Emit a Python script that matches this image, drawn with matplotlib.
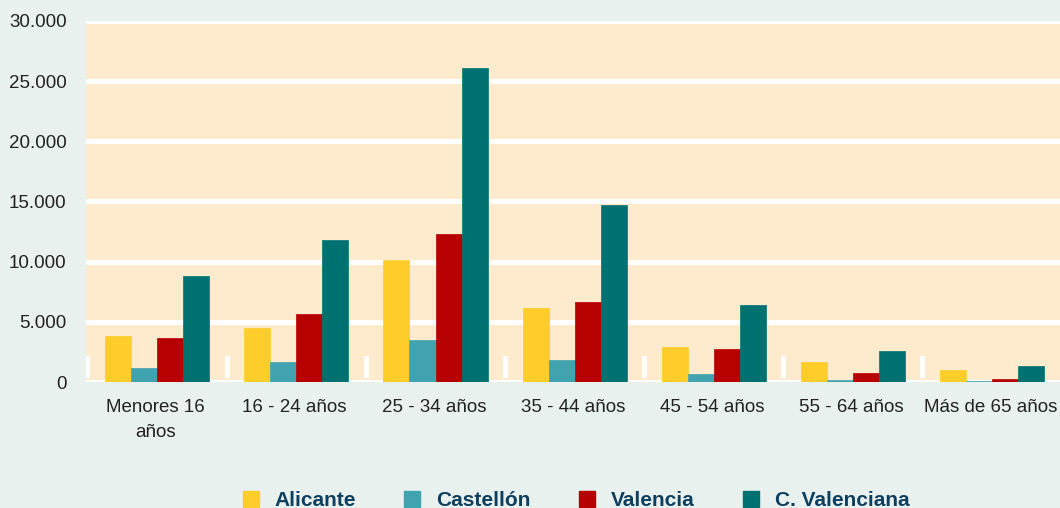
import matplotlib
matplotlib.use("Agg")
import matplotlib.pyplot as plt
from matplotlib.lines import Line2D
from matplotlib.ticker import FuncFormatter
import numpy as np

# data
categories = ["Menores 16\naños", "16 - 24 años", "25 - 34 años", "35 - 44 años",
              "45 - 54 años", "55 - 64 años", "Más de 65 años"]
alicante = [3830, 4490, 10150, 6160, 2910, 1660, 1000]
castellon = [1165, 1660, 3490, 1830, 665, 160, 80]
valencia = [3660, 5660, 12310, 6650, 2750, 750, 250]
c_valenciana = [8820, 11810, 26120, 14720, 6400, 2580, 1330]
series_names = ["Alicante", "Castellón", "Valencia", "C. Valenciana"]
colors = ["#FFCD2A", "#42A3B0", "#B70000", "#007171"]
yticks = [0, 5000, 10000, 15000, 20000, 25000, 30000]

plt.rcParams["font.family"] = ["Liberation Sans", "DejaVu Sans"]

fig = plt.figure(figsize=(10.6, 5.08), dpi=100)
fig.patch.set_facecolor("#E8F1EE")
ax = fig.add_axes([0.0811, 0.248, 0.9189, 0.7107])
ax.set_facecolor("#FEEBCE")

x = np.arange(len(categories))
w = 0.187
all_series = [alicante, castellon, valencia, c_valenciana]
for i, (vals, col) in enumerate(zip(all_series, colors)):
    ax.bar(x + (i - 1.5) * w + 0.012, vals, width=w, color=col, zorder=3,
           edgecolor=col, linewidth=0.5)

ax.set_xlim(-0.5, len(categories) - 0.5)
ax.set_ylim(0, 30000)
ax.set_yticks(yticks)
ax.yaxis.set_major_formatter(FuncFormatter(lambda v, p: f"{int(v):,}".replace(",", ".")))
ax.set_xticks(x)
ax.set_xticklabels(categories, fontsize=13.5, color="#222222", linespacing=1.55)
ax.tick_params(axis="y", length=0, pad=14, labelsize=13.5, labelcolor="#222222")
ax.tick_params(axis="x", length=0, pad=12.5)
ax.grid(axis="y", color="white", linewidth=3.6, zorder=1)
ax.set_axisbelow(True)
for s in ax.spines.values():
    s.set_visible(False)

# small white marks between the groups
for b in np.arange(len(categories)) - 0.5:
    ax.axvline(b + 0.01, ymin=0.019, ymax=0.066, color="white", linewidth=3.5, zorder=2)

handles = [Line2D([], [], marker="s", linestyle="", markersize=11.5, color=c) for c in colors]
leg = fig.legend(handles, series_names, loc="center", bbox_to_anchor=(0.5434, 0.015),
                 ncol=4, frameon=False, handlelength=0.8, columnspacing=2.3,
                 handletextpad=0.75, borderpad=0,
                 prop={"family": ["Liberation Sans", "DejaVu Sans"],
                       "weight": "bold", "size": 15})
for t in leg.get_texts():
    t.set_color("#0E3F5E")

fig.savefig("out.png", dpi=100, facecolor=fig.get_facecolor())
